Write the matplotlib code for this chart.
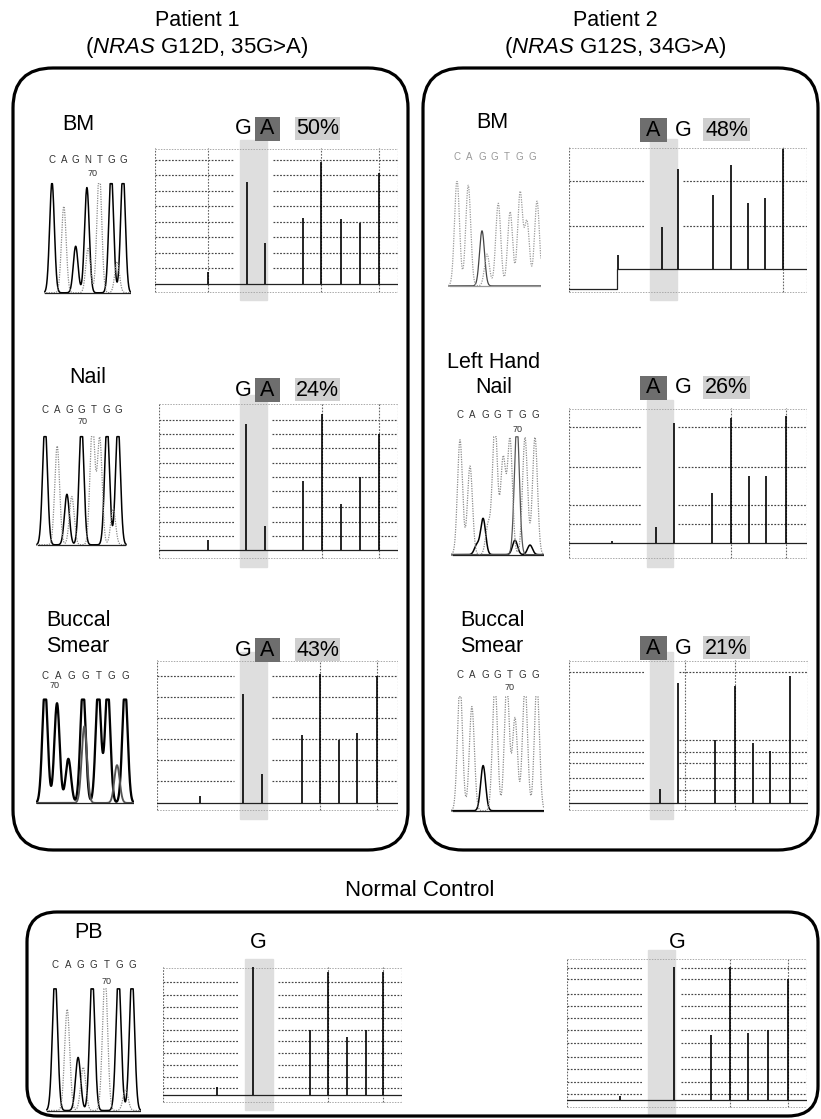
import numpy as np
import matplotlib
matplotlib.use("Agg")
import matplotlib.pyplot as plt
from matplotlib.patches import FancyBboxPatch, Rectangle
from matplotlib import transforms

plt.rcParams['font.family'] = ['Liberation Sans', 'DejaVu Sans']
plt.rcParams['mathtext.fontset'] = 'custom'
plt.rcParams['mathtext.rm'] = 'Liberation Sans'
plt.rcParams['mathtext.it'] = 'Liberation Sans:italic'

# ---- text ----
titles = ["Patient 1", "Patient 2"]
subtitles = [r"($\mathit{NRAS}$ G12D, 35G>A)", r"($\mathit{NRAS}$ G12S, 34G>A)"]
labels_p1 = [["BM"], ["Nail"], ["Buccal", "Smear"]]
labels_p2 = [["BM"], ["Left Hand", "Nail"], ["Buccal", "Smear"]]
pct_p1 = ["50%", "24%", "43%"]
pct_p2 = ["48%", "26%", "21%"]
control_title = "Normal Control"
control_label = "PB"

# ---- Sanger chromatograms: peak centre (base units), height, trace ----
seq_p1_bm = "CAGNTGG"
chrom_p1_bm_x = [0, 1, 2, 2.95, 3.05, 4, 5, 5.5, 6]
chrom_p1_bm_h = [1.0, 0.78, 0.42, 0.95, 0.40, 1.1, 1.1, 0.28, 1.1]
chrom_p1_bm_t = [0, 2, 0, 0, 2, 2, 0, 2, 0]

seq_p1_nail = "CAGGTGG"
chrom_p1_nail_x = [0, 1, 1.8, 2.2, 3, 3.9, 4.5, 5.1, 5.6, 6]
chrom_p1_nail_h = [1.1, 0.9, 0.46, 0.44, 1.1, 1.1, 0.97, 1.1, 0.33, 1.1]
chrom_p1_nail_t = [0, 2, 0, 2, 0, 2, 2, 0, 2, 0]

seq_p1_buccal = "CAGGTGG"
chrom_p1_buccal_x = [0, 0.9, 1.75, 2.85, 2.95, 4.0, 4.7, 5.4, 6.0]
chrom_p1_buccal_h = [1.1, 0.95, 0.42, 1.1, 0.73, 1.1, 1.1, 0.36, 1.1]
chrom_p1_buccal_t = [0, 0, 0, 0, 1, 0, 0, 1, 0]

seq_p2_bm = "CAGGTGG"
chrom_p2_bm_x = [0, 0.9, 2.0, 2.4, 3.3, 4.25, 5.05, 5.6, 6.4]
chrom_p2_bm_h = [1.0, 0.95, 0.52, 0.3, 0.78, 0.7, 0.88, 0.6, 0.8]
chrom_p2_bm_t = [2, 2, 1, 2, 2, 2, 2, 2, 2]

seq_p2_nail = "CAGGTGG"
chrom_p2_nail_x = [0, 0.8, 1.35, 1.85, 2.25, 2.8, 3.45, 4.0, 4.4, 4.55, 5.2, 5.6, 6.0]
chrom_p2_nail_h = [0.96, 0.74, 0.08, 0.3, 0.25, 1.1, 0.8, 0.96, 0.12, 1.1, 0.98, 0.08, 0.98]
chrom_p2_nail_t = [2, 2, 0, 0, 2, 2, 2, 2, 0, 1, 2, 0, 2]

seq_p2_buccal = "CAGGTGG"
chrom_p2_buccal_x = [0, 0.95, 1.85, 2.8, 3.75, 4.4, 5.2, 6.15]
chrom_p2_buccal_h = [1.1, 0.9, 0.39, 1.1, 1.1, 0.8, 1.1, 1.1]
chrom_p2_buccal_t = [2, 2, 0, 2, 2, 2, 2, 2]

seq_ctrl = "CAGGTGG"
chrom_ctrl_x = [0, 0.95, 1.8, 2.2, 2.9, 3.9, 4.95, 5.5, 6.0]
chrom_ctrl_h = [1.1, 0.82, 0.43, 0.35, 1.1, 1.1, 1.1, 0.17, 1.1]
chrom_ctrl_t = [0, 2, 0, 2, 0, 2, 0, 2, 0]

# ---- pyrograms: dispensation position, peak height ----
pyro_p1_bm_x = [2.85, 4.9, 5.9, 7.9, 8.9, 9.95, 10.95, 12.0]
pyro_p1_bm_h = [0.09, 0.79, 0.32, 0.51, 0.94, 0.50, 0.47, 0.86]
band_p1_bm = [4.55, 6.0]
grid_p1_bm = [0.12, 0.24, 0.36, 0.48, 0.60, 0.72, 0.84, 0.96]

pyro_p1_nail_x = [2.67, 4.73, 5.77, 7.83, 8.87, 9.9, 10.93, 11.97]
pyro_p1_nail_h = [0.07, 0.90, 0.17, 0.49, 0.97, 0.33, 0.52, 0.83]
band_p1_nail = [4.4, 5.87]
grid_p1_nail = [0.10, 0.20, 0.31, 0.42, 0.52, 0.62, 0.73, 0.83, 0.93]

pyro_p1_buccal_x = [2.32, 4.64, 5.66, 7.82, 8.79, 9.82, 10.79, 11.87]
pyro_p1_buccal_h = [0.05, 0.80, 0.21, 0.50, 0.95, 0.46, 0.51, 0.93]
band_p1_buccal = [4.48, 5.93]
grid_p1_buccal = [0.16, 0.31, 0.47, 0.62, 0.78, 0.93]

pyro_p2_bm_x = [2.68, 5.08, 5.95, 7.87, 8.85, 9.78, 10.71, 11.69]
pyro_p2_bm_h = [0.12, 0.35, 0.84, 0.62, 0.87, 0.55, 0.59, 1.0]
band_p2_bm = [4.42, 5.9]
grid_p2_bm = [0.36, 0.74]
base_p2_bm_x = [0, 2.6, 2.6, 13]
base_p2_bm_y = [-0.17, -0.17, 0, 0]

pyro_p2_nail_x = [2.35, 4.75, 5.74, 7.81, 8.85, 9.83, 10.76, 11.85]
pyro_p2_nail_h = [0.02, 0.13, 0.93, 0.39, 0.97, 0.52, 0.52, 0.99]
band_p2_nail = [4.26, 5.68]
grid_p2_nail = [0.15, 0.30, 0.59, 0.90]

pyro_p2_buccal_x = [4.95, 5.93, 7.94, 9.03, 10.01, 10.93, 12.02]
pyro_p2_buccal_h = [0.10, 0.88, 0.46, 0.86, 0.44, 0.38, 0.93]
band_p2_buccal = [4.4, 5.66]
grid_p2_buccal = [0.09, 0.18, 0.29, 0.37, 0.46, 0.96]

pyro_ctrl1_x = [2.94, 4.9, 8.0, 8.97, 10.0, 11.04, 11.97]
pyro_ctrl1_h = [0.06, 1.0, 0.51, 0.96, 0.45, 0.51, 0.96]
band_ctrl1 = [4.46, 5.98]
grid_ctrl1 = [0.05, 0.14, 0.23, 0.33, 0.42, 0.51, 0.60, 0.69, 0.78, 0.88]

pyro_ctrl2_x = [2.87, 5.8, 7.8, 8.83, 9.8, 10.89, 11.97]
pyro_ctrl2_h = [0.03, 0.94, 0.46, 0.94, 0.47, 0.49, 0.85]
band_ctrl2 = [4.39, 5.85]
grid_ctrl2 = [0.04, 0.13, 0.22, 0.30, 0.40, 0.49, 0.58, 0.66, 0.75, 0.85, 0.93]

W, H = 821, 1119
fig = plt.figure(figsize=(W / 100, H / 100), dpi=100)

trace_styles = [("black", "-", 1.1), ("#555555", "-", 0.9), ("#8a8a8a", (0, (1, 1)), 0.9)]


def fx(x):
    return x / W


def fy(y):
    return 1 - y / H


def px_axes(x0, y0, x1, y1):
    ax = fig.add_axes([fx(x0), fy(y1), (x1 - x0) / W, (y1 - y0) / H])
    ax.set_axis_off()
    return ax


def rbox(x0, y0, x1, y1, r=0.4):
    p = FancyBboxPatch((x0 / 100, (H - y1) / 100), (x1 - x0) / 100, (y1 - y0) / 100,
                       boxstyle=f"round,pad=0,rounding_size={r}",
                       transform=fig.dpi_scale_trans, fill=False, lw=2.3, ec="black")
    fig.add_artist(p)


def rect(x0, y0, x1, y1, color):
    fig.add_artist(Rectangle((fx(x0), fy(y1)), (x1 - x0) / W, (y1 - y0) / H,
                             transform=fig.transFigure, fc=color, ec="none", zorder=1))


def draw_chrom(p0, p6, top, bot, seq, cx, ch, ct, seq_y, num=None, faint=False, lw_scale=1.0):
    sp = (p6 - p0) / 6
    ax = px_axes(p0 - 0.7 * sp, top, p6 + 0.7 * sp, bot)
    ax.set_xlim(-0.7, 6.7)
    ax.set_ylim(-0.02, 1.0)
    xx = np.linspace(-0.7, 6.7, 900)
    cx, ch, ct = np.asarray(cx), np.asarray(ch), np.asarray(ct)
    for t, (col, ls, w) in enumerate(trace_styles):
        sel = ct == t
        if not sel.any():
            continue
        yy = (ch[sel][:, None] * np.exp(-0.5 * ((xx - cx[sel][:, None]) / 0.2) ** 2)).sum(0)
        if faint:
            col = "#9a9a9a" if t != 1 else "#444444"
        ax.plot(xx, np.minimum(yy, 0.985), color=col, ls=ls, lw=w * lw_scale)
    ax.plot([-0.6, 6.6], [0.0, 0.0], color="#222222" if not faint else "#999999", lw=0.9)
    blend = transforms.blended_transform_factory(ax.transData, ax.transAxes)
    hh = bot - top
    for i, c in enumerate(seq):
        ax.text(i, 1 + (top - seq_y) / hh, c, transform=blend, ha="center", va="center",
                fontsize=7, color="#999999" if faint else "#333333")
    if num is not None:
        ax.text(num[0], 1 + (top - num[1]) / hh, "70", transform=blend, ha="center",
                va="center", fontsize=6.5, color="#333333")


def draw_pyro(box, xs, hs, band, grid, ylo=-0.07, ytop=1.05, vgrid=(), base=None):
    x0, y0, x1, y1 = box
    ax = px_axes(x0, y0, x1, y1)
    ax.set_xlim(0, 13)
    ax.set_ylim(ylo, ytop)
    span = ytop - ylo
    hpx = y1 - y0
    ax.axvspan(band[0], band[1], ymin=-7 / hpx, ymax=1 + 8 / hpx, color="#dedede",
               clip_on=False, zorder=0)
    dot = (0, (1.5, 1.3))
    g0, g1 = band[0] - 0.3, band[1] + 0.3
    for g in grid:
        ax.hlines(g, 0, g0, colors="#444444", lw=0.85, linestyles=dot)
        ax.hlines(g, g1, 13, colors="#444444", lw=0.85, linestyles=dot)
    ax.vlines([0, 13] + list(vgrid), ylo + 0.01 * span, ytop, colors="#666666", lw=0.8,
              linestyles=dot)
    ax.hlines([ylo + 0.01 * span, ytop - 0.005 * span], 0, 13, colors="#aaaaaa", lw=0.7,
              linestyles=dot)
    if base is None:
        base = ([0, 13], [0, 0])
    ax.plot(base[0], base[1], color="#222222", lw=0.9)
    ax.vlines(xs, 0, hs, colors="black", lw=1.2)
    return ax


def header_left(y, pct):
    fig.text(fx(243), fy(y), "G", ha="center", va="center", fontsize=15.5)
    rect(255, y - 12, 280, y + 12, "#6e6e6e")
    fig.text(fx(267.5), fy(y), "A", ha="center", va="center", fontsize=15.5, zorder=3)
    rect(295, y - 12, 340, y + 11, "#cfcfcf")
    fig.text(fx(317.5), fy(y), pct, ha="center", va="center", fontsize=15.5, zorder=3)


def header_right(y, pct):
    rect(640, y - 12, 667, y + 12, "#6e6e6e")
    fig.text(fx(653.5), fy(y), "A", ha="center", va="center", fontsize=15.5, zorder=3)
    fig.text(fx(683), fy(y), "G", ha="center", va="center", fontsize=15.5)
    rect(703, y - 12, 750, y + 11, "#cfcfcf")
    fig.text(fx(726.5), fy(y), pct, ha="center", va="center", fontsize=15.5, zorder=3)


# ---- titles and frames ----
fig.text(fx(197), fy(20), titles[0], ha="center", va="center", fontsize=15.5)
fig.text(fx(197), fy(47), subtitles[0], ha="center", va="center", fontsize=16)
fig.text(fx(615), fy(20), titles[1], ha="center", va="center", fontsize=15.5)
fig.text(fx(615), fy(47), subtitles[1], ha="center", va="center", fontsize=16)
rbox(13, 68, 408, 850)
rbox(423, 68, 818, 850)
fig.text(fx(420), fy(890), control_title, ha="center", va="center", fontsize=16)
rbox(27, 912, 818, 1116, r=0.3)

# ---- sample labels ----
label_pos_p1 = [(78, [125]), (88, [377]), (78, [621, 646])]
label_pos_p2 = [(492, [122]), (494, [362, 388]), (492, [620, 647])]
for (lx, ys), lines in zip(label_pos_p1, labels_p1):
    for yy, s in zip(ys, lines):
        fig.text(fx(lx), fy(yy), s, ha="center", va="center", fontsize=15.5)
for (lx, ys), lines in zip(label_pos_p2, labels_p2):
    for yy, s in zip(ys, lines):
        fig.text(fx(lx), fy(yy), s, ha="center", va="center", fontsize=15.5)
fig.text(fx(88), fy(933), control_label, ha="center", va="center", fontsize=15.5)

# ---- headers ----
for y, p in zip([129, 390, 650], pct_p1):
    header_left(y, p)
for y, p in zip([130, 388, 648], pct_p2):
    header_right(y, p)
fig.text(fx(258), fy(942), "G", ha="center", va="center", fontsize=15.5)
fig.text(fx(677), fy(943), "G", ha="center", va="center", fontsize=15.5)

# ---- chromatograms ----
draw_chrom(52, 123, 182, 295, seq_p1_bm, chrom_p1_bm_x, chrom_p1_bm_h, chrom_p1_bm_t,
           160, num=(3.4, 174))
draw_chrom(45, 118, 435, 547, seq_p1_nail, chrom_p1_nail_x, chrom_p1_nail_h, chrom_p1_nail_t,
           410, num=(3.1, 421))
draw_chrom(45, 125, 698, 805, seq_p1_buccal, chrom_p1_buccal_x, chrom_p1_buccal_h,
           chrom_p1_buccal_t, 676, num=(0.75, 686), lw_scale=1.5)
draw_chrom(457, 532, 180, 288, seq_p2_bm, chrom_p2_bm_x, chrom_p2_bm_h, chrom_p2_bm_t,
           157, faint=True)
draw_chrom(460, 535, 435, 557, seq_p2_nail, chrom_p2_nail_x, chrom_p2_nail_h, chrom_p2_nail_t,
           415, num=(4.6, 430))
draw_chrom(460, 535, 695, 813, seq_p2_buccal, chrom_p2_buccal_x, chrom_p2_buccal_h,
           chrom_p2_buccal_t, 675, num=(4.0, 688))
draw_chrom(55, 132, 987, 1113, seq_ctrl, chrom_ctrl_x, chrom_ctrl_h, chrom_ctrl_t,
           965, num=(4.0, 982))

# ---- pyrograms ----
draw_pyro((155, 148, 398, 293), pyro_p1_bm_x, pyro_p1_bm_h, band_p1_bm, grid_p1_bm,
          vgrid=[2.85, 8.9, 12.0])
draw_pyro((159, 403, 398, 560), pyro_p1_nail_x, pyro_p1_nail_h, band_p1_nail, grid_p1_nail,
          vgrid=[8.87, 11.97])
draw_pyro((157, 660, 398, 812), pyro_p1_buccal_x, pyro_p1_buccal_h, band_p1_buccal,
          grid_p1_buccal, vgrid=[8.79, 11.87])
draw_pyro((569, 147, 807, 293), pyro_p2_bm_x, pyro_p2_bm_h, band_p2_bm, grid_p2_bm,
          ylo=-0.2, ytop=1.02, vgrid=[11.69], base=(base_p2_bm_x, base_p2_bm_y))
draw_pyro((569, 408, 807, 560), pyro_p2_nail_x, pyro_p2_nail_h, band_p2_nail, grid_p2_nail,
          ylo=-0.13, vgrid=[8.85, 11.85])
draw_pyro((569, 660, 808, 812), pyro_p2_buccal_x, pyro_p2_buccal_h, band_p2_buccal,
          grid_p2_buccal, vgrid=[6.3, 9.03])
draw_pyro((163, 967, 402, 1103), pyro_ctrl1_x, pyro_ctrl1_h, band_ctrl1, grid_ctrl1,
          ylo=-0.065, ytop=1.0, vgrid=[8.97, 11.97])
draw_pyro((567, 958, 807, 1108), pyro_ctrl2_x, pyro_ctrl2_h, band_ctrl2, grid_ctrl2,
          ylo=-0.056, ytop=1.0, vgrid=[8.83, 11.97])

fig.savefig("out.png", dpi=100)
